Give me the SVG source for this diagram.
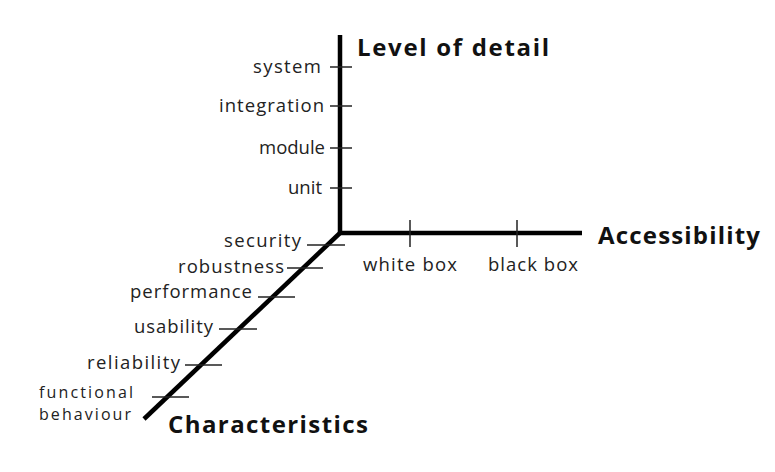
<svg xmlns="http://www.w3.org/2000/svg" width="775" height="472" viewBox="0 0 775 472">
<style>
.axis{stroke:#000;stroke-width:4.5;fill:none;stroke-linecap:butt}
.tick{stroke:#222;stroke-width:1.5;fill:none}
.lbl{font-family:"Open Sans","DejaVu Sans",sans-serif;font-size:18.5px;fill:#222}
.sm{font-size:16px}
.ttl{font-family:"Open Sans","DejaVu Sans",sans-serif;font-size:24px;font-weight:bold;fill:#111}
</style>
<rect width="775" height="472" fill="#fff"/>
<g id="connectors">
<path class="axis" d="M340,35 V233 H582"/>
<path class="axis" d="M340,233 L144,419"/>
<g class="tick">
<line x1="330" y1="67" x2="352" y2="67"/>
<line x1="330" y1="106" x2="352" y2="106"/>
<line x1="330" y1="148" x2="352" y2="148"/>
<line x1="330" y1="188" x2="352" y2="188"/>
<line x1="410" y1="220" x2="410" y2="247"/>
<line x1="517" y1="220" x2="517" y2="247"/>
<line x1="307" y1="245" x2="345" y2="245"/>
<line x1="287" y1="268" x2="323" y2="268"/>
<line x1="258" y1="297" x2="295" y2="297"/>
<line x1="219" y1="329" x2="257" y2="329"/>
<line x1="185" y1="365" x2="222" y2="365"/>
<line x1="152" y1="397" x2="189" y2="397"/>
</g>
</g>
<g id="level-of-detail"><text class="ttl" x="357" y="56" textLength="192">Level of detail</text></g>
<g id="accessibility"><text class="ttl" x="598" y="244" textLength="162">Accessibility</text></g>
<g id="characteristics"><text class="ttl" x="168" y="433" textLength="200">Characteristics</text></g>
<g id="system"><text class="lbl" x="253" y="73" textLength="68">system</text></g>
<g id="integration"><text class="lbl" x="219" y="112" textLength="105">integration</text></g>
<g id="module"><text class="lbl" x="259" y="154" textLength="66">module</text></g>
<g id="unit"><text class="lbl" x="288" y="194" textLength="34">unit</text></g>
<g id="white-box"><text class="lbl" x="363" y="271" textLength="94">white box</text></g>
<g id="black-box"><text class="lbl" x="488" y="271" textLength="90">black box</text></g>
<g id="security"><text class="lbl" x="224" y="247" textLength="77">security</text></g>
<g id="robustness"><text class="lbl" x="178" y="273" textLength="106">robustness</text></g>
<g id="performance"><text class="lbl" x="130" y="298" textLength="122">performance</text></g>
<g id="usability"><text class="lbl" x="134" y="333" textLength="79">usability</text></g>
<g id="reliability"><text class="lbl" x="87" y="369" textLength="93">reliability</text></g>
<g id="functional-behaviour"><text class="lbl sm" x="39" y="398" textLength="94">functional</text><text class="lbl sm" x="39" y="420" textLength="92">behaviour</text></g>
</svg>
